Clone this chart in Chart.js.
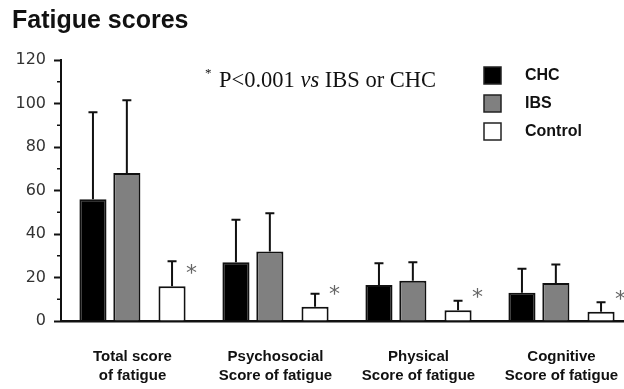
<!DOCTYPE html>
<html>
<head>
<meta charset="utf-8">
<script src="https://cdn.jsdelivr.net/npm/chart.js@4.4.0/dist/chart.umd.min.js"></script>
<style>
  html, body { margin: 0; padding: 0; background: #fff; overflow: hidden; }
  #wrap { width: 633px; height: 389px; }
</style>
</head>
<body>
<div id="wrap"><canvas id="fatigue-chart" width="633" height="389"></canvas></div>
<script>
// values (mean and upper SD)
const categories = [["Total score", "of fatigue"], ["Psychosocial", "Score of fatigue"], ["Physical", "Score of fatigue"], ["Cognitive", "Score of fatigue"]];
const chcMean = [56, 27, 16.5, 13];
const chcSD = [40, 19.5, 10, 11];
const ibsMean = [68, 32, 18.5, 17.5];
const ibsSD = [33.5, 17.5, 8.5, 8.5];
const controlMean = [16, 6.5, 5, 4.3];
const controlSD = [11.5, 6, 4.3, 4.3];
const yTicks = [0, 20, 40, 60, 80, 100, 120];
const gap = [null, null, null, null]; // empty slots, only used to space the bars

const seriesNames = ["CHC", "IBS", "Control"];
const seriesFill = ["#000000", "#808080", "#ffffff"];

function bars(name, data, sd, fill) {
    return {
        label: name,
        data: data,
        sd: sd,
        backgroundColor: fill,
        borderColor: "#111",
        borderWidth: 2
    };
}
function spacer() {
    return { label: "", data: gap, borderWidth: 0, backgroundColor: "rgba(0,0,0,0)" };
}

const dataObj = {
    labels: categories,
    datasets: [
        bars("CHC", chcMean, chcSD, seriesFill[0]),
        spacer(), spacer(),
        bars("IBS", ibsMean, ibsSD, seriesFill[1]),
        spacer(), spacer(), spacer(),
        bars("Control", controlMean, controlSD, seriesFill[2])
    ]
};

// error bars, asterisks, minor ticks, title, note and legend
const decor = {
    id: "decor",
    afterDatasetsDraw(chart) {
        const ctx = chart.ctx;
        const y = chart.scales.y;
        ctx.save();
        ctx.strokeStyle = "#111";
        ctx.lineWidth = 2;
        chart.data.datasets.forEach((ds, di) => {
            if (!ds.sd) return;
            chart.getDatasetMeta(di).data.forEach((bar, i) => {
                const top = y.getPixelForValue(ds.data[i] + ds.sd[i]);
                ctx.beginPath();
                ctx.moveTo(bar.x, bar.y);
                ctx.lineTo(bar.x, top);
                ctx.moveTo(bar.x - 4.5, top);
                ctx.lineTo(bar.x + 4.5, top);
                ctx.stroke();
                if (ds.label === "Control") {
                    ctx.fillStyle = "#666";
                    ctx.font = "22px 'DejaVu Sans'";
                    ctx.textAlign = "center";
                    ctx.textBaseline = "alphabetic";
                    ctx.fillText("*", bar.x + bar.width / 2 + 6, bar.y - 18 + 12);
                }
            });
        });
        // minor ticks on y axis
        ctx.lineWidth = 1.5;
        for (let v = 10; v < 120; v += 20) {
            const py = y.getPixelForValue(v);
            ctx.beginPath();
            ctx.moveTo(chart.chartArea.left - 4, py);
            ctx.lineTo(chart.chartArea.left, py);
            ctx.stroke();
        }
        ctx.restore();
    },
    afterDraw(chart) {
        const ctx = chart.ctx;
        ctx.save();
        ctx.fillStyle = "#111";
        ctx.textBaseline = "alphabetic";
        ctx.textAlign = "left";
        ctx.font = "bold 25px 'Liberation Sans'";
        ctx.fillText("Fatigue scores", 12, 28);

        // note
        ctx.font = "13px 'Liberation Serif'";
        ctx.fillText("*", 205, 77);
        let x = 219;
        const parts = [["P<0.001 ", ""], ["vs", "italic "], [" IBS or CHC", ""]];
        parts.forEach(p => {
            ctx.font = p[1] + "22.5px 'Liberation Serif'";
            ctx.fillText(p[0], x, 87);
            x += ctx.measureText(p[0]).width;
        });

        // legend
        seriesNames.forEach((name, i) => {
            const top = 67 + i * 28;
            ctx.fillStyle = seriesFill[i];
            ctx.fillRect(484, top, 17, 17);
            ctx.strokeStyle = "#222";
            ctx.lineWidth = 1.5;
            ctx.strokeRect(484, top, 17, 17);
            ctx.fillStyle = "#111";
            ctx.font = "bold 16px 'Liberation Sans'";
            ctx.textBaseline = "middle";
            ctx.fillText(name, 525, top + 9);
        });
        ctx.restore();
    }
};

new Chart("fatigue-chart", {
    type: "bar",
    data: dataObj,
    plugins: [decor],
    options: {
        responsive: false,
        animation: false,
        layout: { padding: { top: 60, left: 0, right: 0, bottom: 0 } },
        datasets: { bar: { categoryPercentage: 0.632, barPercentage: 2.4 } },
        plugins: {
            legend: { display: false },
            tooltip: { enabled: false },
            title: { display: false }
        },
        scales: {
            x: {
                grid: { display: true, drawOnChartArea: false, drawTicks: true, tickLength: 20, tickColor: "rgba(0,0,0,0)" },
                border: { display: true, color: "#111", width: 2.5 },
                ticks: {
                    color: "#111",
                    padding: 6,
                    maxRotation: 0,
                    autoSkip: false,
                    font: { family: "'Liberation Sans'", size: 15, weight: "bold", lineHeight: 1.3 }
                },
                afterFit(scale) { scale.height = 68; }
            },
            y: {
                min: 0,
                max: 120,
                afterBuildTicks(scale) { scale.ticks = yTicks.map(v => ({ value: v })); },
                grid: { drawOnChartArea: false, drawTicks: true, tickLength: 7, tickWidth: 2, tickColor: "#111" },
                border: { display: true, color: "#111", width: 2 },
                ticks: {
                    color: "#333",
                    padding: 8,
                    font: { family: "'DejaVu Sans'", size: 16 }
                },
                afterFit(scale) { scale.width = 61; }
            }
        }
    }
});
</script>
</body>
</html>
